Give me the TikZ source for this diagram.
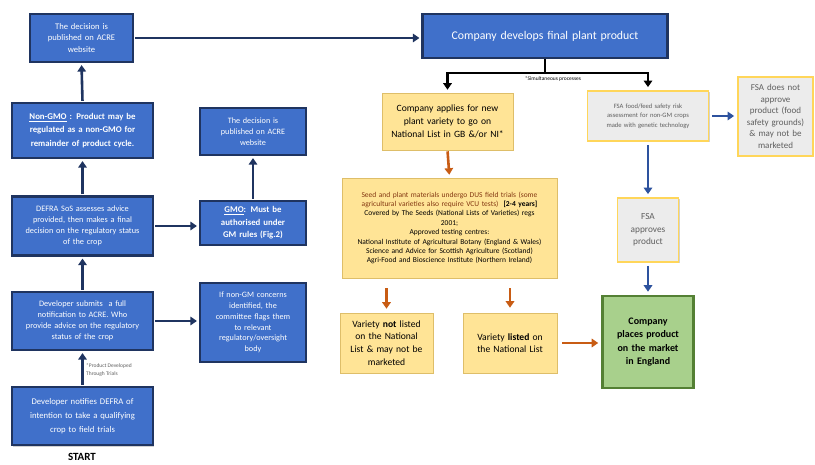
\documentclass[tikz,border=0pt]{standalone}
\usepackage{fontspec}
\setmainfont{Carlito}
\usetikzlibrary{arrows.meta,shadows}
\definecolor{bfill}{RGB}{64,112,202}
\definecolor{navy}{RGB}{31,52,96}
\definecolor{yfill}{RGB}{255,228,150}
\definecolor{yedge}{RGB}{222,190,105}
\definecolor{gfill}{RGB}{236,236,236}
\definecolor{gedge}{RGB}{255,214,90}
\definecolor{gtext}{RGB}{95,95,95}
\definecolor{grfill}{RGB}{168,208,140}
\definecolor{gredge}{RGB}{84,128,52}
\definecolor{orng}{RGB}{200,92,20}
\definecolor{fblue}{RGB}{45,82,158}
\definecolor{seedred}{RGB}{132,56,18}
\begin{document}
\begin{tikzpicture}[x=1pt,y=-1pt,
  shad/.style={drop shadow={opacity=0.35,shadow xshift=1.2pt,shadow yshift=-1.5pt}},
  bbox/.style={shad,draw=navy,line width=2.2pt,fill=bfill,text=white,align=center,inner sep=1pt},
  ybox/.style={shad,draw=yedge,line width=0.6pt,fill=yfill,text=black,align=center,inner sep=1pt},
  gbox/.style={shad,draw=gedge,line width=1.8pt,fill=gfill,text=gtext,align=center,inner sep=1pt},
  grbox/.style={shad,draw=gredge,line width=2.6pt,fill=grfill,text=black,align=center,inner sep=1pt},
  tip/.style={-{Triangle[length=6.5pt,width=8.5pt]}},
  narr/.style={draw=navy,line width=2.6pt,tip,shorten >=2pt,shorten <=1pt},
  barr/.style={draw=fblue,line width=2.6pt,tip,shorten >=3pt,shorten <=3pt},
  oarr/.style={draw=orng,line width=2.6pt,tip},
  karr/.style={draw=black,line width=2.6pt,tip,shorten >=3pt},
]
\useasboundingbox (0,0) rectangle (815,465);
\fill[white] (0,0) rectangle (815,465);

% left column
\node[bbox,minimum width=103pt,minimum height=48pt,text width=97pt,font=\fontsize{8.6}{11.5}\selectfont] (dec1) at (81.5,38) {The decision is\\published on ACRE\\website};
\node[bbox,minimum width=141pt,minimum height=55pt,text width=137pt,font=\fontsize{8.8}{13.5}\selectfont\bfseries] (nongmo) at (82.5,130.5) {\underline{Non-GMO} : Product may be\\regulated as a non-GMO for\\remainder of product cycle.};
\node[bbox,minimum width=141pt,minimum height=59pt,text width=137pt,font=\fontsize{8.3}{11}\selectfont] (defra) at (82.5,226) {DEFRA SoS assesses advice\\provided, then makes a final\\decision on the regulatory status\\of the crop};
\node[bbox,minimum width=141pt,minimum height=58pt,text width=137pt,font=\fontsize{8.3}{11}\selectfont] (submit) at (82.5,321) {Developer submits\ \ a full\\notification to ACRE. Who\\provide advice on the regulatory\\status of the crop};
\node[bbox,minimum width=141pt,minimum height=58pt,text width=137pt,font=\fontsize{8.7}{14}\selectfont] (notify) at (82.5,416) {Developer notifies DEFRA of\\intention to take a qualifying\\crop to field trials};
\node[font=\fontsize{11}{12}\selectfont\bfseries] (start) at (82,457) {START};
\node[anchor=west,align=left,text=gtext,font=\fontsize{5.5}{8.5}\selectfont,inner sep=0pt] (trials) at (86,370) {*Product Developed\\Through Trials};

% second column
\node[bbox,minimum width=106pt,minimum height=47pt,text width=102pt,font=\fontsize{8.2}{11}\selectfont] (dec2) at (253,131.5) {The decision is\\published on ACRE\\website};
\node[bbox,minimum width=106pt,minimum height=44pt,text width=102pt,font=\fontsize{8.8}{12.5}\selectfont\bfseries] (gmo) at (253,223) {\underline{GMO}: Must be\\authorised under\\GM rules (Fig.2)};
\node[bbox,minimum width=106pt,minimum height=79pt,text width=102pt,font=\fontsize{8.2}{10.8}\selectfont] (concern) at (253,322.5) {If non-GM concerns\\identified, the\\committee flags them\\to relevant\\regulatory/oversight\\body};

% right part
\node[bbox,minimum width=245pt,minimum height=44pt,text width=239pt,font=\fontsize{11.8}{13}\selectfont] (company) at (545,36) {Company develops final plant product};
\node[ybox,minimum width=131pt,minimum height=57pt,text width=127pt,font=\fontsize{9.6}{13}\selectfont] (apply) at (447.5,121.5) {Company applies for new\\plant variety to go on\\National List in GB \&/or NI*};
\node[gbox,minimum width=121pt,minimum height=50pt,text width=117pt,font=\fontsize{6.6}{9.5}\selectfont] (fsa) at (648,116) {FSA food/feed safety risk\\assessment for non-GM crops\\made with genetic technology};
\node[gbox,minimum width=75pt,minimum height=79pt,text width=72pt,font=\fontsize{9}{11.5}\selectfont] (fsano) at (775.5,116.5) {FSA does not\\approve\\product (food\\safety grounds)\\\& may not be\\marketed};
\node[gbox,minimum width=61pt,minimum height=64pt,text width=58pt,font=\fontsize{9.3}{12.5}\selectfont] (fsayes) at (648,230) {FSA\\approves\\product};
\node[grbox,minimum width=91pt,minimum height=92pt,text width=87pt,font=\fontsize{10}{13.5}\selectfont\bfseries] (green) at (648,342) {Company\\places product\\on the market\\in England};
\node[ybox,minimum width=215pt,minimum height=100pt,text width=213pt,font=\fontsize{7.5}{9.4}\selectfont] (seed) at (449.5,228) {\textcolor{seedred}{Seed and plant materials undergo DUS field trials (some}\\\textcolor{seedred}{agricultural varieties also require VCU tests)}\ \ \textbf{[2-4 years]}\\Covered by The Seeds (National Lists of Varieties) regs\\2001;\\Approved testing centres:\\National Institute of Agricultural Botany (England \& Wales)\\Science and Advice for Scottish Agriculture (Scotland)\\Agri-Food and Bioscience Institute (Northern Ireland)};
\node[ybox,minimum width=93pt,minimum height=60pt,text width=90pt,font=\fontsize{9.6}{12.6}\selectfont] (notlisted) at (386.5,343) {Variety \textbf{not} listed\\on the National\\List \& may not be\\marketed};
\node[ybox,minimum width=94pt,minimum height=60pt,text width=91pt,font=\fontsize{9.6}{12.6}\selectfont] (listed) at (510,343) {Variety \textbf{listed} on\\the National List};

% connectors left
\draw[narr] (nongmo.north) -- (dec1.south);
\draw[narr] (defra.north) -- (nongmo.south);
\draw[narr] (submit.north) -- (defra.south);
\draw[narr] (notify.north) -- (submit.south);
\draw[narr] (defra.east) -- (defra.east -| gmo.west);
\draw[narr] (submit.east) -- (submit.east -| concern.west);
\draw[narr] (gmo.north) -- (dec2.south);
\draw[narr] (dec1.east) -- (dec1.east -| company.west);

% black split
\draw[draw=black,line width=2.6pt] (company.south) -- ++(0,14) coordinate (br);
\draw[karr] (br) -| (apply.north);
\draw[karr] (br) -| (fsa.north);
\node[text=black,font=\fontsize{5.5}{6}\selectfont,inner sep=0pt] (simul) at (553,79) {*Simultaneous processes};

% blue (FSA)
\draw[barr] (fsa.east) -- (fsa.east -| fsano.west);
\draw[barr] (fsa.south) -- (fsayes.north);
\draw[barr] (fsayes.south) -- (green.north);

% orange
\draw[oarr,shorten >=3pt,shorten <=1pt] (apply.south) -- (seed.north);
\draw[oarr,shorten >=4pt,shorten <=10pt] (seed.south -| notlisted) -- (notlisted.north);
\draw[oarr,shorten >=5pt,shorten <=10pt] (seed.south -| listed) -- (listed.north);
\draw[oarr,shorten >=3pt,shorten <=5pt] (listed.east) -- (listed.east -| green.west);
\end{tikzpicture}
\end{document}
